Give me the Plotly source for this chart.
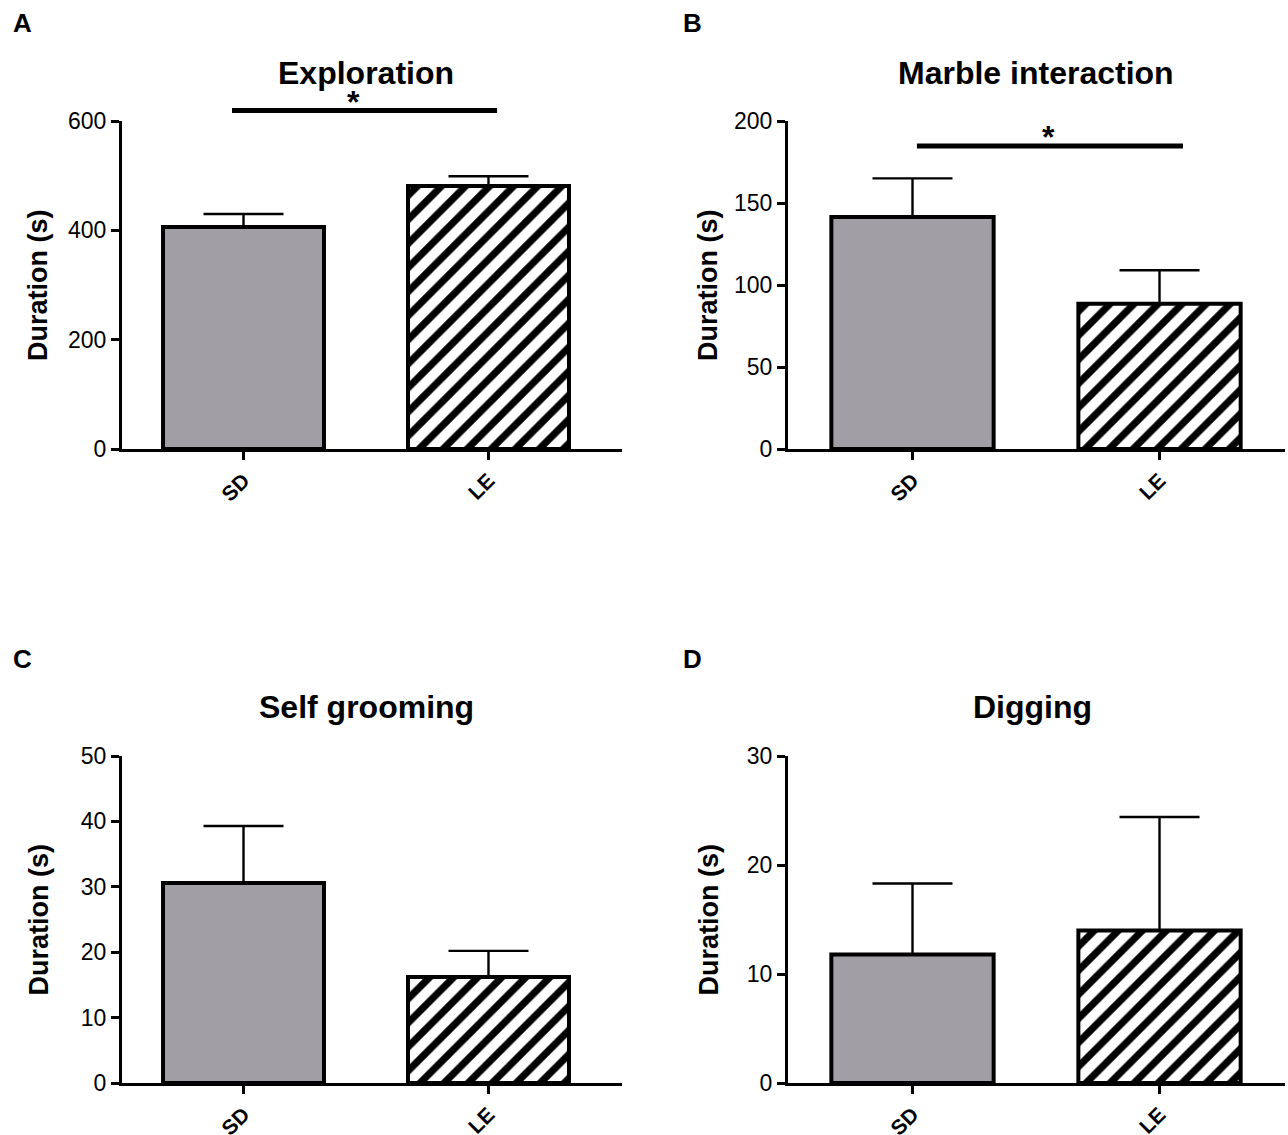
import plotly.graph_objects as go

# ---- data ----
categories = ["SD", "LE"]
exploration_mean = [406, 481]
exploration_sem = [24, 18]
marble_mean = [141.5, 88.5]
marble_sem = [23.5, 20.5]
grooming_mean = [30.6, 16.2]
grooming_sem = [8.7, 4.0]
digging_mean = [11.8, 14.0]
digging_sem = [6.5, 10.4]

titles = ["Exploration", "Marble interaction", "Self grooming", "Digging"]
letters = ["A", "B", "C", "D"]
y_max = [600, 200, 50, 30]
y_dtick = [200, 50, 10, 10]
y_title = "Duration (s)"

means = [exploration_mean, marble_mean, grooming_mean, digging_mean]
sems = [exploration_sem, marble_sem, grooming_sem, digging_sem]

W, H = 1288, 1135
FONT = "Liberation Sans, Arial, Helvetica, sans-serif"
GRAY = "#a19fa5"


def px(x):
    return min(1.0, x / W)


def py(y):
    return 1 - y / H


# layout positions in window pixels
xdom_px = [(122, 622), (788, 1285), (122, 622), (788, 1285)]
ydom_px = [(121, 449), (121, 449), (756, 1083), (756, 1083)]
xranges = [(-0.496, 1.545), (-0.504, 1.508), (-0.496, 1.545), (-0.504, 1.508)]
title_px = [(366, 73), (1036, 73), (366, 707), (1032, 707)]
letter_px = [(22, 23), (693, 23), (22, 659), (693, 659)]
ytitle_px = [38, 708, 38, 708]

fig = go.Figure()
layout = dict(template="none", width=W, height=H, autosize=False,
              margin=dict(l=0, r=0, t=0, b=0, pad=0),
              paper_bgcolor="white", plot_bgcolor="white",
              showlegend=False, barmode="overlay",
              font=dict(family=FONT, color="black"))
annotations = []
shapes = []

for i in range(4):
    sfx = "" if i == 0 else str(i + 1)
    xa, ya = "x" + sfx, "y" + sfx
    for j in range(2):
        mk = dict(color=GRAY if j == 0 else "white",
                  line=dict(color="black", width=4))
        if j == 1:
            mk["pattern"] = dict(shape="/", fgcolor="black", bgcolor="white",
                                 fgopacity=1, fillmode="overlay",
                                 size=17, solidity=0.42)
        fig.add_trace(go.Bar(
            x=[j], y=[means[i][j]], xaxis=xa, yaxis=ya, width=0.657,
            name=categories[j], marker=mk,
            error_y=dict(type="data", symmetric=False, array=[sems[i][j]],
                         arrayminus=[0], color="black", thickness=2.4, width=40),
            hoverinfo="y",
        ))
    x0, x1 = xdom_px[i]
    y0, y1 = ydom_px[i]
    layout["xaxis" + sfx] = dict(
        domain=[px(x0), px(x1)], range=list(xranges[i]), anchor=ya,
        tickvals=[0, 1], ticktext=categories, tickangle=-45,
        tickfont=dict(family=FONT, size=21, color="black", weight="bold"),
        showline=True, linewidth=3, linecolor="black", automargin=False,
        ticks="outside", ticklen=8, tickwidth=3, tickcolor="black",
        showgrid=False, zeroline=False, fixedrange=True)
    layout["yaxis" + sfx] = dict(
        domain=[py(y1), py(y0)], range=[0, y_max[i]], anchor=xa,
        dtick=y_dtick[i], tick0=0, automargin=False,
        tickfont=dict(family=FONT, size=23, color="black"),
        showline=True, linewidth=3, linecolor="black",
        ticks="outside", ticklen=8, tickwidth=3, tickcolor="black",
        showgrid=False, zeroline=False, fixedrange=True)
    annotations.append(dict(text=y_title, xref="paper", yref="paper", textangle=-90,
                            x=px(ytitle_px[i]), y=py((y0 + y1) / 2),
                            xanchor="center", yanchor="middle", showarrow=False,
                            font=dict(family=FONT, size=27, color="black", weight="bold")))
    tx, ty = title_px[i]
    annotations.append(dict(text=titles[i], xref="paper", yref="paper",
                            x=px(tx), y=py(ty), xanchor="center", yanchor="middle",
                            showarrow=False,
                            font=dict(family=FONT, size=32, color="black", weight="bold")))
    lx, ly = letter_px[i]
    annotations.append(dict(text=letters[i], xref="paper", yref="paper",
                            x=px(lx), y=py(ly), xanchor="center", yanchor="middle",
                            showarrow=False,
                            font=dict(family=FONT, size=26, color="black", weight="bold")))

# significance bars
shapes.append(dict(type="line", xref="x", yref="paper", x0=-0.047, x1=1.035,
                   y0=py(110.5), y1=py(110.5),
                   line=dict(color="black", width=5)))
annotations.append(dict(text="*", xref="x", yref="paper", x=0.451, y=py(102),
                        xanchor="center", yanchor="middle", showarrow=False,
                        font=dict(family=FONT, size=32, color="black", weight="bold")))
shapes.append(dict(type="line", xref="x2", yref="y2", x0=0.018, x1=1.095,
                   y0=184.8, y1=184.8, line=dict(color="black", width=5)))
annotations.append(dict(text="*", xref="x2", yref="y2", x=0.549, y=190.5,
                        xanchor="center", yanchor="middle", showarrow=False,
                        font=dict(family=FONT, size=32, color="black", weight="bold")))

layout["annotations"] = annotations
layout["shapes"] = shapes
fig.update_layout(**layout)
fig.write_html("out.html", config={"displayModeBar": False},
               post_script="document.body.style.margin='0';"
                           "document.body.style.overflow='hidden';")
